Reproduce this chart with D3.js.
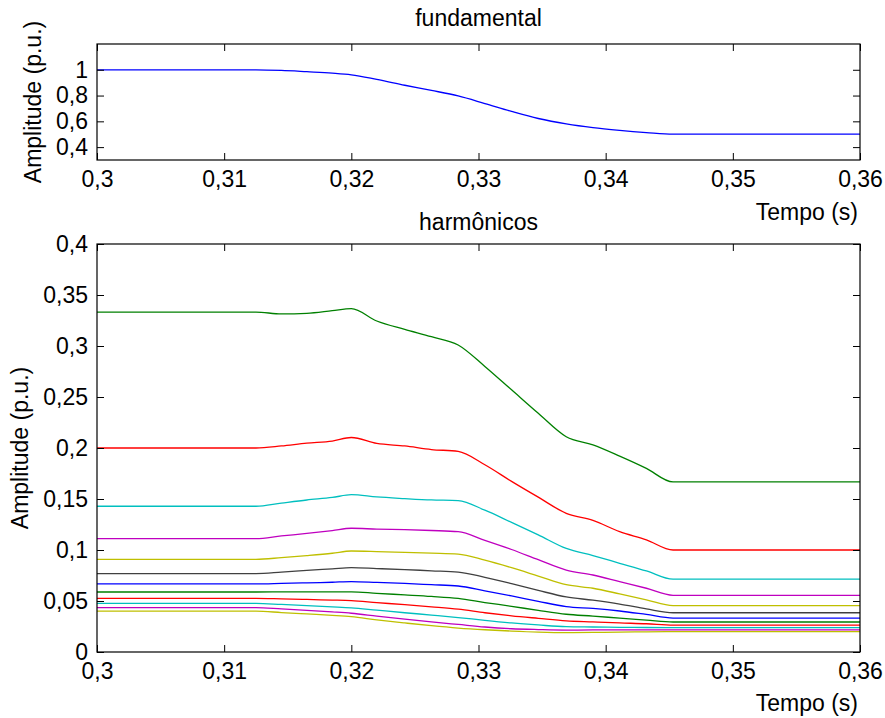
<!DOCTYPE html>
<html>
<head>
<meta charset="utf-8">
<script src="https://cdn.jsdelivr.net/npm/d3@7"></script>
<style>
  html, body { margin: 0; padding: 0; background: #fff; }
  svg { display: block; }
  text { font-family: "Liberation Sans", Arial, Helvetica, sans-serif; fill: #000; }
</style>
</head>
<body>
<svg id="chart" width="885" height="718"></svg>
<script>
// Time instants (s) at which the estimated amplitudes are sampled
const timeGrid = [0.3, 0.3125, 0.3145, 0.3165, 0.3185, 0.3200, 0.3220, 0.3242, 0.3263,
                  0.3284, 0.3305, 0.3326, 0.3347, 0.3369, 0.3390, 0.3411, 0.3432, 0.3453, 0.36];

// Fundamental amplitude (p.u.)
const fundamental = [1.0, 1.0, 0.995, 0.985, 0.974, 0.961, 0.925, 0.880, 0.840,
                     0.797, 0.738, 0.677, 0.622, 0.580, 0.551, 0.530, 0.513, 0.500, 0.500];

// Odd harmonic amplitudes (p.u.)
const h3  = [0.3333, 0.3333, 0.3314, 0.3320, 0.3346, 0.3366, 0.3245, 0.3163, 0.3091,
             0.3010, 0.2800, 0.2570, 0.2340, 0.2110, 0.2030, 0.1920, 0.1800, 0.1667, 0.1667];
const h5  = [0.2000, 0.2000, 0.2020, 0.2048, 0.2068, 0.2103, 0.2045, 0.2020, 0.1985,
             0.1967, 0.1836, 0.1673, 0.1518, 0.1360, 0.1290, 0.1180, 0.1100, 0.1000, 0.1000];
const h7  = [0.1429, 0.1429, 0.1460, 0.1490, 0.1515, 0.1542, 0.1520, 0.1504, 0.1491,
             0.1484, 0.1390, 0.1270, 0.1148, 0.1015, 0.0945, 0.0870, 0.0795, 0.0714, 0.0714];
const h9  = [0.1111, 0.1111, 0.1138, 0.1162, 0.1190, 0.1213, 0.1205, 0.1199, 0.1191,
             0.1180, 0.1095, 0.1005, 0.0905, 0.0803, 0.0755, 0.0690, 0.0625, 0.0556, 0.0556];
const h11 = [0.0909, 0.0909, 0.0925, 0.0945, 0.0968, 0.0990, 0.0985, 0.0977, 0.0969,
             0.0960, 0.0900, 0.0826, 0.0745, 0.0660, 0.0625, 0.0570, 0.0512, 0.0455, 0.0455];
const h13 = [0.0769, 0.0769, 0.0783, 0.0800, 0.0815, 0.0827, 0.0818, 0.0808, 0.0796,
             0.0784, 0.0732, 0.0670, 0.0604, 0.0540, 0.0508, 0.0470, 0.0423, 0.0385, 0.0385];
const h15 = [0.0667, 0.0667, 0.0672, 0.0678, 0.0684, 0.0690, 0.0682, 0.0672, 0.0660,
             0.0647, 0.0600, 0.0550, 0.0497, 0.0445, 0.0427, 0.0402, 0.0368, 0.0333, 0.0333];
const h17 = [0.0588, 0.0588, 0.0589, 0.0590, 0.0590, 0.0590, 0.0575, 0.0560, 0.0545,
             0.0525, 0.0485, 0.0448, 0.0408, 0.0370, 0.0352, 0.0332, 0.0313, 0.0294, 0.0294];
const h19 = [0.0526, 0.0526, 0.0521, 0.0515, 0.0509, 0.0503, 0.0484, 0.0464, 0.0443,
             0.0420, 0.0385, 0.0355, 0.0330, 0.0305, 0.0295, 0.0285, 0.0277, 0.0263, 0.0263];
const h21 = [0.0476, 0.0476, 0.0466, 0.0455, 0.0443, 0.0433, 0.0410, 0.0385, 0.0362,
             0.0338, 0.0310, 0.0285, 0.0265, 0.0248, 0.0245, 0.0242, 0.0240, 0.0238, 0.0238];
const h23 = [0.0435, 0.0435, 0.0422, 0.0408, 0.0393, 0.0380, 0.0352, 0.0322, 0.0295,
             0.0270, 0.0245, 0.0228, 0.0220, 0.0215, 0.0216, 0.0217, 0.0217, 0.0217, 0.0217];
const h25 = [0.0400, 0.0400, 0.0387, 0.0373, 0.0359, 0.0346, 0.0315, 0.0285, 0.0258,
             0.0235, 0.0218, 0.0205, 0.0195, 0.0190, 0.0192, 0.0195, 0.0198, 0.0200, 0.0200];

// Line colours, cycled in plotting order
const harmonicColors = ["#008000", "#ff0000", "#00bfbf", "#bf00bf", "#bfbf00", "#404040",
                        "#0000ff", "#008000", "#ff0000", "#00bfbf", "#bf00bf", "#bfbf00"];
const fundamentalColor = "#0000ff";

// Axis ticks and their labels
const xTicks = [0.3, 0.31, 0.32, 0.33, 0.34, 0.35, 0.36];
const xTickLabels = ["0,3", "0,31", "0,32", "0,33", "0,34", "0,35", "0,36"];
const topYTicks = [0.4, 0.6, 0.8, 1];
const topYTickLabels = ["0,4", "0,6", "0,8", "1"];
const bottomYTicks = [0, 0.05, 0.1, 0.15, 0.2, 0.25, 0.3, 0.35, 0.4];
const bottomYTickLabels = ["0", "0,05", "0,1", "0,15", "0,2", "0,25", "0,3", "0,35", "0,4"];

const harmonicSeries = [h3, h5, h7, h9, h11, h13, h15, h17, h19, h21, h23, h25];

const svg = d3.select("#chart");
const FONT = 23;
const TICK = 7;

function drawPanel(opts) {
  const { left, right, top, bottom, yDomain, yTicks, yTickLabels, series, colors,
          title, titleY, yLabelX, xLabelY } = opts;

  const x = d3.scaleLinear().domain([0.3, 0.36]).range([left, right]);
  const y = d3.scaleLinear().domain(yDomain).range([bottom, top]);

  const g = svg.append("g");

  // Data lines, clipped to the axes box
  const clipId = "clip" + Math.round(top);
  svg.append("clipPath").attr("id", clipId)
    .append("rect").attr("x", left).attr("y", top)
    .attr("width", right - left).attr("height", bottom - top);

  const line = d3.line()
    .x((d, i) => x(timeGrid[i]))
    .y(d => y(d))
    .curve(d3.curveMonotoneX);

  g.append("g").attr("clip-path", `url(#${clipId})`)
    .selectAll("path").data(series).join("path")
    .attr("d", d => line(d))
    .attr("fill", "none")
    .attr("stroke", (d, i) => colors[i % colors.length])
    .attr("stroke-width", 1.3)
    .attr("stroke-linejoin", "round");

  const styleAxis = sel => {
    sel.select(".domain").remove();
    sel.selectAll(".tick line").attr("stroke", "#000").attr("stroke-width", 1);
    sel.selectAll(".tick text").attr("font-size", FONT).attr("font-family", null);
  };

  // Bottom axis (labelled), ticks pointing inward
  g.append("g").attr("transform", `translate(0,${bottom})`)
    .call(d3.axisBottom(x).tickValues(xTicks)
      .tickFormat((d, i) => xTickLabels[i])
      .tickSizeInner(-TICK).tickSizeOuter(0).tickPadding(11))
    .call(styleAxis);

  // Top axis (ticks only)
  g.append("g").attr("transform", `translate(0,${top})`)
    .call(d3.axisTop(x).tickValues(xTicks).tickFormat("")
      .tickSizeInner(-TICK).tickSizeOuter(0))
    .call(styleAxis);

  // Left axis (labelled)
  g.append("g").attr("transform", `translate(${left},0)`)
    .call(d3.axisLeft(y).tickValues(yTicks)
      .tickFormat((d, i) => yTickLabels[i])
      .tickSizeInner(-TICK).tickSizeOuter(0).tickPadding(9))
    .call(styleAxis);

  // Right axis (ticks only)
  g.append("g").attr("transform", `translate(${right},0)`)
    .call(d3.axisRight(y).tickValues(yTicks).tickFormat("")
      .tickSizeInner(-TICK).tickSizeOuter(0))
    .call(styleAxis);

  // Axes box
  g.append("rect")
    .attr("x", left).attr("y", top)
    .attr("width", right - left).attr("height", bottom - top)
    .attr("fill", "none").attr("stroke", "#000").attr("stroke-width", 1.2);

  // Title
  g.append("text")
    .attr("x", (left + right) / 2).attr("y", titleY)
    .attr("text-anchor", "middle").attr("font-size", FONT)
    .text(title);

  // Axis titles
  g.append("text")
    .attr("transform", `translate(${yLabelX},${(top + bottom) / 2}) rotate(-90)`)
    .attr("text-anchor", "middle").attr("dy", "0.35em").attr("font-size", FONT)
    .text("Amplitude (p.u.)");

  g.append("text")
    .attr("x", right - 2).attr("y", xLabelY)
    .attr("text-anchor", "end").attr("font-size", FONT)
    .text("Tempo (s)");
}

drawPanel({
  left: 97, right: 860, top: 44, bottom: 160,
  yDomain: [0.3, 1.2], yTicks: topYTicks, yTickLabels: topYTickLabels,
  series: [fundamental], colors: [fundamentalColor],
  title: "fundamental", titleY: 26, yLabelX: 33, xLabelY: 220
});

drawPanel({
  left: 97, right: 860, top: 244, bottom: 652,
  yDomain: [0, 0.4], yTicks: bottomYTicks, yTickLabels: bottomYTickLabels,
  series: harmonicSeries, colors: harmonicColors,
  title: "harmônicos", titleY: 230, yLabelX: 20, xLabelY: 711
});
</script>
</body>
</html>
